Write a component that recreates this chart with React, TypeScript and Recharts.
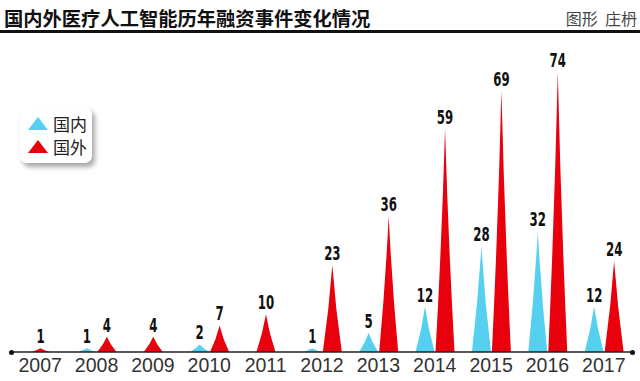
import { BarChart, Bar, XAxis, YAxis, Legend } from 'recharts'

const years = ['2007', '2008', '2009', '2010', '2011', '2012', '2013', '2014', '2015', '2016', '2017']
const domestic = [0, 1, 0, 2, 0, 1, 5, 12, 28, 32, 12]
const foreign = [1, 4, 4, 7, 10, 23, 36, 59, 69, 74, 24]

const CYAN = '#55d0ef'
const RED = '#e8000d'
const BAR_GAP = 1

const data = years.map((year, i) => ({ year, domestic: domestic[i], foreign: foreign[i] }))

function spikePath(cx: number, top: number, bottom: number, w: number) {
  const h = bottom - top
  const xl = cx - w / 2
  const xr = cx + w / 2
  return `M${xl},${bottom} Q${cx - w * 0.17},${top + h * 0.5} ${cx},${top} Q${cx + w * 0.17},${top + h * 0.5} ${xr},${bottom} Z`
}

function makeSpike(key: 'domestic' | 'foreign', color: string) {
  return (props: any) => {
    const { x, y, width, height, payload } = props
    const v = payload[key]
    if (!v) return <g />
    // a lone foreign spike sits on the middle of its year
    const shift = key === 'foreign' && !payload.domestic ? -(width + BAR_GAP) / 2 : 0
    const cx = x + width / 2 + shift
    const bottom = y + height
    return (
      <g>
        <path d={spikePath(cx, y, bottom, width)} fill={color} />
        <text
          transform={`translate(${cx},${y - 5}) scale(0.62,1)`}
          textAnchor="middle"
          fontFamily="'DejaVu Sans', sans-serif"
          fontWeight="bold"
          fontSize={19}
          fill="#111"
        >
          {v}
        </text>
      </g>
    )
  }
}

const YearTick = (props: any) => {
  const { x, y, payload } = props
  return (
    <text x={x} y={y + 20} textAnchor="middle" fontFamily="'Liberation Sans', Arial, sans-serif" fontSize={19.5} fill="#333">
      {payload.value}
    </text>
  )
}

const Tri = ({ color }: { color: string }) => (
  <svg width={20} height={13} style={{ marginRight: 5 }}>
    <polygon points="0,13 10,0 20,13" fill={color} />
  </svg>
)

const LegendBox = () => (
  <div
    style={{
      width: 72,
      height: 56,
      boxSizing: 'border-box',
      background: '#fff',
      borderRadius: 7,
      boxShadow: '3px 4px 5px rgba(0,0,0,0.35)',
      padding: '5px 0 0 8px',
      fontFamily: "'Noto Sans CJK SC', sans-serif",
      fontSize: 17,
      color: '#222',
      lineHeight: '23px',
    }}
  >
    <div style={{ display: 'flex', alignItems: 'center' }}>
      <Tri color={CYAN} />
      国内
    </div>
    <div style={{ display: 'flex', alignItems: 'center' }}>
      <Tri color={RED} />
      国外
    </div>
  </div>
)

export default function App() {
  return (
    <div style={{ position: 'absolute', left: 0, top: 0, width: 640, height: 381, background: '#fff', overflow: 'hidden' }}>
      <div
        style={{
          position: 'absolute',
          left: 4,
          top: 6,
          fontFamily: "'Noto Sans CJK SC', sans-serif",
          fontWeight: 'bold',
          fontSize: 19.3,
          lineHeight: '24px',
          color: '#111',
        }}
      >
        国内外医疗人工智能历年融资事件变化情况
      </div>
      <div
        style={{
          position: 'absolute',
          right: 3,
          top: 7,
          fontFamily: "'Noto Sans CJK SC', sans-serif",
          fontSize: 16,
          lineHeight: '22px',
          color: '#444',
        }}
      >
        图形&nbsp;&nbsp;庄枬
      </div>
      <div style={{ position: 'absolute', left: 0, top: 30, width: 640, height: 3, background: '#111' }} />
      <BarChart
        width={640}
        height={381}
        data={data}
        margin={{ top: 49, right: 8, left: 12, bottom: 0 }}
        barSize={19}
        barGap={BAR_GAP}
      >
        <XAxis
          dataKey="year"
          height={29}
          tickLine={false}
          tickSize={0}
          tickMargin={0}
          axisLine={{ stroke: '#222', strokeWidth: 1.5 }}
          tick={<YearTick />}
          interval={0}
        />
        <YAxis hide domain={[0, 80]} />
        <Legend
          layout="vertical"
          align="center"
          verticalAlign="middle"
          wrapperStyle={{ left: 20, top: 107, width: 72 }}
          content={<LegendBox />}
        />
        <Bar dataKey="domestic" fill={CYAN} isAnimationActive={false} shape={makeSpike('domestic', CYAN)} />
        <Bar dataKey="foreign" fill={RED} isAnimationActive={false} shape={makeSpike('foreign', RED)} />
      </BarChart>
      <div style={{ position: 'absolute', left: 9, top: 350, width: 5, height: 5, borderRadius: 3, background: '#111' }} />
      <div style={{ position: 'absolute', left: 630, top: 350, width: 5, height: 5, borderRadius: 3, background: '#111' }} />
    </div>
  )
}
